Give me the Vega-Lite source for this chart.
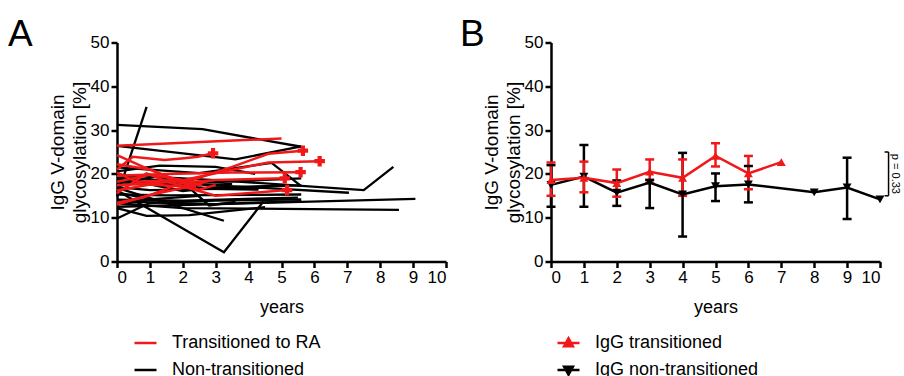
{
  "$schema": "https://vega.github.io/schema/vega-lite/v6.json",
  "background": "white",
  "padding": {"left": 8, "top": 15.5, "right": 0, "bottom": 0},
  "bounds": "flush",
  "spacing": 105,
  "resolve": {"scale": {"color": "independent", "shape": "independent", "x": "independent", "y": "independent"}, "legend": {"color": "independent", "shape": "independent"}},
  "config": {
    "font": "Liberation Sans",
    "view": {"stroke": null},
    "axis": {
      "domainColor": "black", "domainWidth": 2.5, "tickColor": "black", "tickWidth": 2.5, "tickSize": 6,
      "labelFontSize": 17, "labelColor": "black", "labelPadding": 2,
      "titleFontSize": 19, "titleFontWeight": "normal", "titleColor": "black", "grid": false
    },
    "legend": {"labelFontSize": 18, "labelColor": "black", "labelLimit": 400},
    "title": {"fontWeight": "normal", "color": "black"}
  },
  "datasets": {
    "refs": [{"v": 25}, {"v": 15}],
    "bracket": [
      {"bx": 10.26, "bx2": 10.26, "by": 25, "by2": 15},
      {"bx": 10.14, "bx2": 10.26, "by": 25, "by2": 25},
      {"bx": 10.14, "bx2": 10.26, "by": 15, "by2": 15}
    ],
    "pval": [{"px": 10.46, "py": 20, "label": "p = 0.33"}],
    "linesA": [
      {"id": "b1", "grp": "Non-transitioned", "year": 0, "val": 14.8}, {"id": "b1", "grp": "Non-transitioned", "year": 0.9, "val": 35.3},
      {"id": "b2", "grp": "Non-transitioned", "year": 0, "val": 31.2}, {"id": "b2", "grp": "Non-transitioned", "year": 2.6, "val": 30.2}, {"id": "b2", "grp": "Non-transitioned", "year": 5.6, "val": 26.2},
      {"id": "b3", "grp": "Non-transitioned", "year": 0, "val": 26.4}, {"id": "b3", "grp": "Non-transitioned", "year": 3.6, "val": 23.3}, {"id": "b3", "grp": "Non-transitioned", "year": 5.6, "val": 26.3},
      {"id": "b4", "grp": "Non-transitioned", "year": 0, "val": 21.5}, {"id": "b4", "grp": "Non-transitioned", "year": 2.5, "val": 20.2}, {"id": "b4", "grp": "Non-transitioned", "year": 4.7, "val": 22.5}, {"id": "b4", "grp": "Non-transitioned", "year": 5.6, "val": 17.2},
      {"id": "b5", "grp": "Non-transitioned", "year": 0, "val": 19.8}, {"id": "b5", "grp": "Non-transitioned", "year": 3, "val": 18.6}, {"id": "b5", "grp": "Non-transitioned", "year": 7.5, "val": 16.3}, {"id": "b5", "grp": "Non-transitioned", "year": 8.4, "val": 21.6},
      {"id": "b6", "grp": "Non-transitioned", "year": 0, "val": 18.3}, {"id": "b6", "grp": "Non-transitioned", "year": 3, "val": 17.4}, {"id": "b6", "grp": "Non-transitioned", "year": 7.05, "val": 15.7},
      {"id": "b7", "grp": "Non-transitioned", "year": 0, "val": 12.5}, {"id": "b7", "grp": "Non-transitioned", "year": 9.07, "val": 14.3},
      {"id": "b8", "grp": "Non-transitioned", "year": 0, "val": 13.3}, {"id": "b8", "grp": "Non-transitioned", "year": 2, "val": 12.2}, {"id": "b8", "grp": "Non-transitioned", "year": 8.57, "val": 11.8},
      {"id": "b9", "grp": "Non-transitioned", "year": 0, "val": 16.2}, {"id": "b9", "grp": "Non-transitioned", "year": 3.25, "val": 2.1}, {"id": "b9", "grp": "Non-transitioned", "year": 4.45, "val": 13.7},
      {"id": "b10", "grp": "Non-transitioned", "year": 0, "val": 16.8}, {"id": "b10", "grp": "Non-transitioned", "year": 3.25, "val": 9.3},
      {"id": "b11", "grp": "Non-transitioned", "year": 0, "val": 9.8}, {"id": "b11", "grp": "Non-transitioned", "year": 1, "val": 13.4}, {"id": "b11", "grp": "Non-transitioned", "year": 3, "val": 13.9}, {"id": "b11", "grp": "Non-transitioned", "year": 5.6, "val": 14.2},
      {"id": "b12", "grp": "Non-transitioned", "year": 0, "val": 12.2}, {"id": "b12", "grp": "Non-transitioned", "year": 0.9, "val": 10.4}, {"id": "b12", "grp": "Non-transitioned", "year": 2.2, "val": 10.6}, {"id": "b12", "grp": "Non-transitioned", "year": 4.5, "val": 12.4},
      {"id": "b13", "grp": "Non-transitioned", "year": 0, "val": 20.2}, {"id": "b13", "grp": "Non-transitioned", "year": 1, "val": 17.6}, {"id": "b13", "grp": "Non-transitioned", "year": 2, "val": 16.1}, {"id": "b13", "grp": "Non-transitioned", "year": 3, "val": 16.9}, {"id": "b13", "grp": "Non-transitioned", "year": 5.6, "val": 17.4},
      {"id": "b14", "grp": "Non-transitioned", "year": 0, "val": 18.8}, {"id": "b14", "grp": "Non-transitioned", "year": 2.8, "val": 16.6}, {"id": "b14", "grp": "Non-transitioned", "year": 4.3, "val": 16.4},
      {"id": "b15", "grp": "Non-transitioned", "year": 0, "val": 17.6}, {"id": "b15", "grp": "Non-transitioned", "year": 2, "val": 17.8}, {"id": "b15", "grp": "Non-transitioned", "year": 5.6, "val": 19.0},
      {"id": "b16", "grp": "Non-transitioned", "year": 0, "val": 14.1}, {"id": "b16", "grp": "Non-transitioned", "year": 2, "val": 13.9}, {"id": "b16", "grp": "Non-transitioned", "year": 5.5, "val": 14.6},
      {"id": "b17", "grp": "Non-transitioned", "year": 0, "val": 13.7}, {"id": "b17", "grp": "Non-transitioned", "year": 3, "val": 13.1}, {"id": "b17", "grp": "Non-transitioned", "year": 5.6, "val": 13.8},
      {"id": "b18", "grp": "Non-transitioned", "year": 0, "val": 19.2}, {"id": "b18", "grp": "Non-transitioned", "year": 2, "val": 18.1}, {"id": "b18", "grp": "Non-transitioned", "year": 2.8, "val": 12.8}, {"id": "b18", "grp": "Non-transitioned", "year": 3.6, "val": 13.6},
      {"id": "b19", "grp": "Non-transitioned", "year": 0, "val": 15.3}, {"id": "b19", "grp": "Non-transitioned", "year": 1.5, "val": 15.1}, {"id": "b19", "grp": "Non-transitioned", "year": 5.6, "val": 15.3},
      {"id": "b20", "grp": "Non-transitioned", "year": 0, "val": 17.0}, {"id": "b20", "grp": "Non-transitioned", "year": 1, "val": 16.3}, {"id": "b20", "grp": "Non-transitioned", "year": 4.4, "val": 16.8},
      {"id": "b21", "grp": "Non-transitioned", "year": 0, "val": 20.6}, {"id": "b21", "grp": "Non-transitioned", "year": 1.3, "val": 21.9}, {"id": "b21", "grp": "Non-transitioned", "year": 3, "val": 21.6}, {"id": "b21", "grp": "Non-transitioned", "year": 4.2, "val": 20.0},
      {"id": "b22", "grp": "Non-transitioned", "year": 0, "val": 15.8}, {"id": "b22", "grp": "Non-transitioned", "year": 1, "val": 14.2}, {"id": "b22", "grp": "Non-transitioned", "year": 2.5, "val": 15.0},
      {"id": "b23", "grp": "Non-transitioned", "year": 0, "val": 18.0}, {"id": "b23", "grp": "Non-transitioned", "year": 1.2, "val": 19.3}, {"id": "b23", "grp": "Non-transitioned", "year": 2.2, "val": 17.3}, {"id": "b23", "grp": "Non-transitioned", "year": 3.5, "val": 17.7},
      {"id": "r1", "grp": "Transitioned to RA", "year": 0, "val": 26.4}, {"id": "r1", "grp": "Transitioned to RA", "year": 5.0, "val": 28.1},
      {"id": "r2", "grp": "Transitioned to RA", "year": 0, "val": 24.3}, {"id": "r2", "grp": "Transitioned to RA", "year": 0.8, "val": 21.6}, {"id": "r2", "grp": "Transitioned to RA", "year": 1.5, "val": 19.5}, {"id": "r2", "grp": "Transitioned to RA", "year": 2.4, "val": 17.0},
      {"id": "r3", "grp": "Transitioned to RA", "year": 0, "val": 21.0}, {"id": "r3", "grp": "Transitioned to RA", "year": 0.48, "val": 23.9}, {"id": "r3", "grp": "Transitioned to RA", "year": 1.44, "val": 23.2}, {"id": "r3", "grp": "Transitioned to RA", "year": 2.05, "val": 23.6}, {"id": "r3", "grp": "Transitioned to RA", "year": 2.46, "val": 23.9}, {"id": "r3", "grp": "Transitioned to RA", "year": 2.92, "val": 24.7},
      {"id": "r4", "grp": "Transitioned to RA", "year": 0, "val": 18.2}, {"id": "r4", "grp": "Transitioned to RA", "year": 1, "val": 19.8}, {"id": "r4", "grp": "Transitioned to RA", "year": 2.2, "val": 18.4}, {"id": "r4", "grp": "Transitioned to RA", "year": 3.5, "val": 21.6}, {"id": "r4", "grp": "Transitioned to RA", "year": 4.6, "val": 24.6}, {"id": "r4", "grp": "Transitioned to RA", "year": 5.65, "val": 25.3},
      {"id": "r5", "grp": "Transitioned to RA", "year": 0, "val": 17.4}, {"id": "r5", "grp": "Transitioned to RA", "year": 1.8, "val": 18.2}, {"id": "r5", "grp": "Transitioned to RA", "year": 3.2, "val": 20.5}, {"id": "r5", "grp": "Transitioned to RA", "year": 4.6, "val": 22.6}, {"id": "r5", "grp": "Transitioned to RA", "year": 6.16, "val": 22.9},
      {"id": "r6", "grp": "Transitioned to RA", "year": 0, "val": 19.6}, {"id": "r6", "grp": "Transitioned to RA", "year": 1.5, "val": 20.0}, {"id": "r6", "grp": "Transitioned to RA", "year": 3.5, "val": 20.3}, {"id": "r6", "grp": "Transitioned to RA", "year": 5.58, "val": 20.4},
      {"id": "r7", "grp": "Transitioned to RA", "year": 0, "val": 16.2}, {"id": "r7", "grp": "Transitioned to RA", "year": 1, "val": 17.6}, {"id": "r7", "grp": "Transitioned to RA", "year": 2, "val": 17.1}, {"id": "r7", "grp": "Transitioned to RA", "year": 3, "val": 15.0}, {"id": "r7", "grp": "Transitioned to RA", "year": 5.17, "val": 16.3},
      {"id": "r8", "grp": "Transitioned to RA", "year": 0, "val": 13.4}, {"id": "r8", "grp": "Transitioned to RA", "year": 0.8, "val": 14.6}, {"id": "r8", "grp": "Transitioned to RA", "year": 2, "val": 18.0}, {"id": "r8", "grp": "Transitioned to RA", "year": 3, "val": 18.6}, {"id": "r8", "grp": "Transitioned to RA", "year": 5.1, "val": 19.0},
      {"id": "r9", "grp": "Transitioned to RA", "year": 0, "val": 15.6}, {"id": "r9", "grp": "Transitioned to RA", "year": 0.9, "val": 20.1}, {"id": "r9", "grp": "Transitioned to RA", "year": 1.6, "val": 18.0}, {"id": "r9", "grp": "Transitioned to RA", "year": 2.5, "val": 16.4}, {"id": "r9", "grp": "Transitioned to RA", "year": 3, "val": 17.5},
      {"id": "r10", "grp": "Transitioned to RA", "year": 0, "val": 13.0}, {"id": "r10", "grp": "Transitioned to RA", "year": 1, "val": 15.2}, {"id": "r10", "grp": "Transitioned to RA", "year": 2, "val": 16.8}, {"id": "r10", "grp": "Transitioned to RA", "year": 2.8, "val": 18.4},
      {"id": "r11", "grp": "Transitioned to RA", "year": 0, "val": 20.3}, {"id": "r11", "grp": "Transitioned to RA", "year": 0.6, "val": 18.2}, {"id": "r11", "grp": "Transitioned to RA", "year": 1.8, "val": 18.6}, {"id": "r11", "grp": "Transitioned to RA", "year": 2.6, "val": 17.3},
      {"id": "r12", "grp": "Transitioned to RA", "year": 0, "val": 22.2}, {"id": "r12", "grp": "Transitioned to RA", "year": 1, "val": 21.0}, {"id": "r12", "grp": "Transitioned to RA", "year": 2.2, "val": 17.3}
    ],
    "endsA": [
      {"year": 2.92, "val": 24.7}, {"year": 5.65, "val": 25.3}, {"year": 6.16, "val": 22.9},
      {"year": 5.58, "val": 20.4}, {"year": 5.17, "val": 16.3}, {"year": 5.1, "val": 19.0}
    ],
    "meansB": [
      {"g": "IgG non-transitioned", "year": 0, "mean": 17.5, "lo": 12.5, "hi": 22.0},
      {"g": "IgG non-transitioned", "year": 1, "mean": 19.4, "lo": 12.5, "hi": 26.6},
      {"g": "IgG non-transitioned", "year": 2, "mean": 15.7, "lo": 12.7, "hi": 18.5},
      {"g": "IgG non-transitioned", "year": 3, "mean": 18.0, "lo": 12.2, "hi": 18.6},
      {"g": "IgG non-transitioned", "year": 4, "mean": 15.3, "lo": 5.7, "hi": 24.8},
      {"g": "IgG non-transitioned", "year": 5, "mean": 17.2, "lo": 13.8, "hi": 20.1},
      {"g": "IgG non-transitioned", "year": 6, "mean": 17.6, "lo": 13.5, "hi": 21.8},
      {"g": "IgG non-transitioned", "year": 8, "mean": 15.8},
      {"g": "IgG non-transitioned", "year": 9, "mean": 16.9, "lo": 9.7, "hi": 23.7},
      {"g": "IgG non-transitioned", "year": 10, "mean": 14.2},
      {"g": "IgG transitioned", "year": 0, "mean": 18.6, "lo": 15.0, "hi": 22.6},
      {"g": "IgG transitioned", "year": 1, "mean": 19.1, "lo": 15.8, "hi": 22.8},
      {"g": "IgG transitioned", "year": 2, "mean": 17.9, "lo": 14.8, "hi": 21.0},
      {"g": "IgG transitioned", "year": 3, "mean": 20.5, "lo": 17.9, "hi": 23.3},
      {"g": "IgG transitioned", "year": 4, "mean": 19.1, "lo": 15.0, "hi": 23.3},
      {"g": "IgG transitioned", "year": 5, "mean": 24.1, "lo": 21.7, "hi": 27.0},
      {"g": "IgG transitioned", "year": 6, "mean": 20.1, "lo": 16.5, "hi": 24.1},
      {"g": "IgG transitioned", "year": 7, "mean": 22.7}
    ]
  },
  "hconcat": [
    {
      "width": 329,
      "height": 219,
      "title": {"text": "A", "anchor": "start", "frame": "group", "fontSize": 37, "dx": -109, "offset": 0, "baseline": "alphabetic", "dy": 49},
      "encoding": {
        "x": {"field": "year", "type": "quantitative", "scale": {"domain": [0, 10], "nice": false, "zero": false},
              "axis": {"title": "years", "values": [0,1,2,3,4,5,6,7,8,9,10], "titleFontSize": 18, "titlePadding": 13}},
        "y": {"field": "val", "type": "quantitative", "scale": {"domain": [0, 50], "nice": false},
              "axis": {"title": ["IgG V-domain", "glycosylation [%]"], "values": [0,10,20,30,40,50], "titlePadding": 1, "titleLineHeight": 22}}
      },
      "layer": [
        {
          "data": {"name": "refs"},
          "mark": {"type": "rule", "strokeDash": [2.5, 4], "strokeWidth": 2.5, "color": "black"},
          "encoding": {"y": {"field": "v", "type": "quantitative"}, "x": {"datum": 0}, "x2": {"datum": 10.25}}
        },
        {
          "data": {"name": "linesA"},
          "transform": [{"filter": "datum.grp === 'Non-transitioned'"}],
          "mark": {"type": "line", "strokeWidth": 2.3},
          "encoding": {
            "detail": {"field": "id"},
            "color": {"field": "grp", "type": "nominal",
              "scale": {"domain": ["Transitioned to RA", "Non-transitioned"], "range": ["#f01818", "black"]},
              "legend": {"orient": "none", "legendX": 16, "legendY": 288, "title": null, "direction": "vertical",
                         "symbolType": "stroke", "symbolSize": 484, "symbolStrokeWidth": 2.5, "rowPadding": 5, "labelOffset": 14}}
          }
        },
        {
          "data": {"name": "linesA"},
          "transform": [{"filter": "datum.grp === 'Transitioned to RA'"}],
          "mark": {"type": "line", "strokeWidth": 2.5},
          "encoding": {
            "detail": {"field": "id"},
            "color": {"field": "grp", "type": "nominal"}
          }
        },
        {
          "data": {"name": "endsA"},
          "mark": {"type": "point", "shape": "cross", "filled": true, "size": 110, "color": "#f01818", "opacity": 1},
          "encoding": {}
        }
      ]
    },
    {
      "width": 329,
      "height": 219,
      "title": {"text": "B", "anchor": "start", "frame": "group", "fontSize": 37, "dx": -91, "offset": 0, "baseline": "alphabetic", "dy": 49},
      "encoding": {
        "x": {"field": "year", "type": "quantitative", "scale": {"domain": [0, 10], "nice": false, "zero": false},
              "axis": {"title": "years", "values": [0,1,2,3,4,5,6,7,8,9,10], "titleFontSize": 18, "titlePadding": 13}},
        "y": {"field": "mean", "type": "quantitative", "scale": {"domain": [0, 50], "nice": false},
              "axis": {"title": ["IgG V-domain", "glycosylation [%]"], "values": [0,10,20,30,40,50], "titlePadding": 1, "titleLineHeight": 22}},
        "color": {"field": "g", "type": "nominal",
          "scale": {"domain": ["IgG transitioned", "IgG non-transitioned"], "range": ["#f01818", "black"]},
          "legend": {"orient": "none", "legendX": 5, "legendY": 288, "title": null, "direction": "vertical",
                     "symbolType": "M-1,0H1M-0.4,0.3L0,-0.42L0.4,0.3Z",
                     "symbolSize": 484, "symbolStrokeWidth": 2.5, "rowPadding": 5, "labelOffset": 14,
                     "encode": {"symbols": {"update": {
                        "shape": {"signal": "datum.value === 'IgG transitioned' ? 'M-1,0H1M-0.4,0.3L0,-0.42L0.4,0.3Z' : 'M-1,0H1M-0.4,-0.3L0,0.42L0.4,-0.3Z'"},
                        "fill": {"signal": "datum.value === 'IgG transitioned' ? '#f01818' : 'black'"},
                        "stroke": {"signal": "datum.value === 'IgG transitioned' ? '#f01818' : 'black'"},
                        "fillOpacity": {"value": 1}, "strokeOpacity": {"value": 1}}}}}}
      },
      "layer": [
        {
          "data": {"name": "refs"},
          "mark": {"type": "rule", "strokeDash": [2.5, 4], "strokeWidth": 2.5, "color": "black"},
          "encoding": {"y": {"field": "v", "type": "quantitative"}, "x": {"datum": 0}, "x2": {"datum": 10.13}, "color": {"value": "black"}}
        },
        {
          "data": {"name": "bracket"},
          "mark": {"type": "rule", "strokeWidth": 1.5, "color": "black"},
          "encoding": {
            "x": {"field": "bx", "type": "quantitative"}, "x2": {"field": "bx2"},
            "y": {"field": "by", "type": "quantitative"}, "y2": {"field": "by2"},
            "color": {"value": "black"}
          }
        },
        {
          "data": {"name": "pval"},
          "mark": {"type": "text", "angle": 90, "fontSize": 11, "align": "center", "baseline": "middle", "color": "black"},
          "encoding": {
            "x": {"field": "px", "type": "quantitative"},
            "y": {"field": "py", "type": "quantitative"},
            "text": {"field": "label"},
            "color": {"value": "black"}
          }
        },
        {
          "data": {"name": "meansB"},
          "transform": [{"filter": "isValid(datum.lo)"}],
          "mark": {"type": "rule", "strokeWidth": 2.5},
          "encoding": {"y": {"field": "lo", "type": "quantitative"}, "y2": {"field": "hi"}}
        },
        {
          "data": {"name": "meansB"},
          "transform": [{"filter": "isValid(datum.lo)"}],
          "mark": {"type": "tick", "orient": "horizontal", "size": 9, "thickness": 2.5, "opacity": 1},
          "encoding": {"y": {"field": "lo", "type": "quantitative"}}
        },
        {
          "data": {"name": "meansB"},
          "transform": [{"filter": "isValid(datum.hi)"}],
          "mark": {"type": "tick", "orient": "horizontal", "size": 9, "thickness": 2.5, "opacity": 1},
          "encoding": {"y": {"field": "hi", "type": "quantitative"}}
        },
        {
          "data": {"name": "meansB"},
          "mark": {"type": "line", "strokeWidth": 2.5},
          "encoding": {}
        },
        {
          "data": {"name": "meansB"},
          "transform": [{"filter": "datum.g === 'IgG non-transitioned'"}],
          "mark": {"type": "point", "shape": "triangle-down", "filled": true, "size": 80, "opacity": 1},
          "encoding": {}
        },
        {
          "data": {"name": "meansB"},
          "transform": [{"filter": "datum.g === 'IgG transitioned'"}],
          "mark": {"type": "point", "shape": "triangle-up", "filled": true, "size": 80, "opacity": 1},
          "encoding": {}
        }
      ]
    }
  ]
}
